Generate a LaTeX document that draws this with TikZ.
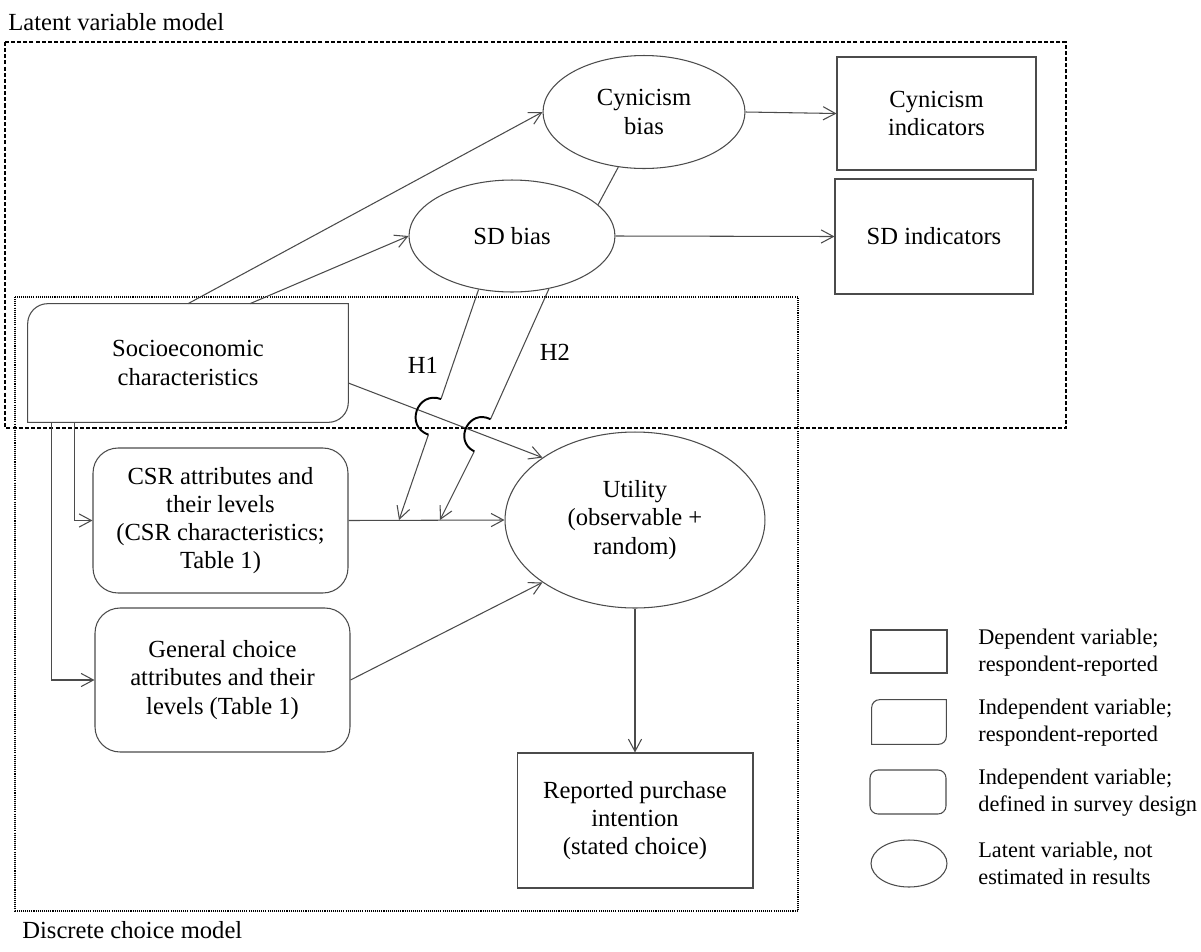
\documentclass[tikz,border=0pt]{standalone}
\usepackage{fontspec}
\setmainfont{Liberation Serif}
\usepackage{tikz}
\usetikzlibrary{arrows.meta,shapes.geometric,calc}
\definecolor{edgegray}{RGB}{75,75,75}

\begin{document}
\begin{tikzpicture}[x=0.02cm, y=-0.02cm,
    font=\fontsize{14}{16}\selectfont,
    >={Straight Barb[length=7pt,width=7.5pt]},
    varbox/.style={draw=edgegray, line width=0.6pt, align=center, inner sep=2pt},
    roundbox/.style={varbox, rounded corners=0.5cm},
    latentvar/.style={varbox, ellipse},
    conn/.style={->, draw=edgegray, line width=0.6pt},
    jump/.style={black, line width=1.1pt},
    keytext/.style={anchor=west, align=left, inner sep=0pt, font=\fontsize{12.7}{15.3}\selectfont}]
    \useasboundingbox (0,0) rectangle (1201,951);

    % Model frames
    \draw[line width=1.1pt, dash pattern=on 2.3pt off 1.2pt] (5,42) rectangle (1066,428);
    \draw[line width=1pt, dash pattern=on 0.6pt off 0.6pt] (15,297) rectangle (798,911);
    \node[anchor=west, inner sep=0pt] (lvm) at (8,22) {Latent variable model};
    \node[anchor=west, inner sep=0pt] (dcm) at (22,930) {Discrete choice model};

    % Variables
    \node[varbox, minimum width=3.98cm, minimum height=2.26cm] (cynind) at (936.5,113.5) {Cynicism\\indicators};
    \node[varbox, minimum width=3.96cm, minimum height=2.3cm] (sdind) at (934,236.5) {SD indicators};
    \node[latentvar, minimum width=4.04cm, minimum height=2.26cm] (cynbias) at (644,112) {Cynicism\\bias};
    \node[latentvar, minimum width=4.12cm, minimum height=2.24cm] (sdbias) at (512,236) {SD bias};
    \node[align=center, inner sep=2pt, minimum width=6.4cm, minimum height=2.36cm] (socio) at (188,363) {Socioeconomic\\characteristics};
    \node[roundbox, minimum width=5.1cm, minimum height=2.9cm] (csr) at (220.5,520.5) {CSR attributes and\\their levels\\(CSR characteristics;\\Table 1)};
    \node[roundbox, minimum width=5.1cm, minimum height=2.88cm] (general) at (222.5,680) {General choice\\attributes and their\\levels (Table 1)};
    \node[latentvar, minimum width=5.2cm, minimum height=3.52cm] (utility) at (635,520) {Utility\\(observable +\\random)};
    \node[varbox, minimum width=4.72cm, minimum height=2.7cm] (report) at (635,820.5) {Reported purchase\\intention\\(stated choice)};

    % Socioeconomic box, two corners rounded
    \draw[edgegray, line width=0.6pt] ([xshift=0.4cm]socio.north west) -- (socio.north east)
        -- ([yshift=0.4cm]socio.south east) .. controls ([yshift=0.18cm]socio.south east) and ([xshift=-0.18cm]socio.south east) .. ([xshift=-0.4cm]socio.south east)
        -- (socio.south west) -- ([yshift=-0.4cm]socio.north west)
        .. controls ([yshift=-0.18cm]socio.north west) and ([xshift=0.18cm]socio.north west) .. ([xshift=0.4cm]socio.north west);

    % Links
    \draw[conn] (socio.north) -- (cynbias.west);
    \draw[conn] ([xshift=1.24cm]socio.north) -- (sdbias.west);
    \draw[conn] (cynbias.east) -- (cynind.west);
    \draw[conn] (sdbias.east) -- (sdind.west);
    \draw[edgegray, line width=0.6pt] (sdbias.20) -- (cynbias.245);
    \draw[conn] ([xshift=0.48cm]socio.south west) |- (general.west);
    \draw[conn] ([xshift=0.94cm]socio.south west) |- (csr.west);
    \draw[conn] ([yshift=-0.4cm]socio.east) -- (utility.146);
    \draw[conn] (csr.east) -- (utility.west);
    \draw[conn] (general.east) -- (utility.214);
    \draw[conn] (utility.south) -- (report.north);

    % Moderation paths with line jumps
    \coordinate (h1a) at (441,399);
    \coordinate (h1c) at (417.1,390.5);
    \coordinate (h1d) at (404.5,426.3);
    \coordinate (h1b) at (428.4,434.7);
    \coordinate (h1e) at (399,520);
    \coordinate (h2a) at (490.5,419.2);
    \coordinate (h2c) at (469.1,408.4);
    \coordinate (h2d) at (452.9,440.6);
    \coordinate (h2b) at (474.3,451.4);
    \coordinate (h2e) at (440,520);
    \draw[conn] (sdbias.238) -- (h1a) (h1b) -- (h1e);
    \draw[jump] (h1a) .. controls (h1c) and (h1d) .. (h1b);
    \draw[conn] (sdbias.305) -- (h2a) (h2b) -- (h2e);
    \draw[jump] (h2a) .. controls (h2c) and (h2d) .. (h2b);
    \node (h1) at (423,365) {H1};
    \node (h2) at (555,352) {H2};

    % Legend
    \node[varbox, minimum width=1.52cm, minimum height=0.86cm] (keydep) at (909,651.5) {};
    \node[inner sep=0pt, minimum width=1.48cm, minimum height=0.88cm] (keyresp) at (909,722) {};
    \draw[edgegray, line width=0.6pt] ([xshift=0.16cm]keyresp.north west) -- (keyresp.north east)
        -- ([yshift=0.16cm]keyresp.south east) .. controls ([yshift=0.07cm]keyresp.south east) and ([xshift=-0.07cm]keyresp.south east) .. ([xshift=-0.16cm]keyresp.south east)
        -- (keyresp.south west) -- ([yshift=-0.16cm]keyresp.north west)
        .. controls ([yshift=-0.07cm]keyresp.north west) and ([xshift=0.07cm]keyresp.north west) .. ([xshift=0.16cm]keyresp.north west);
    \node[roundbox, rounded corners=0.16cm, minimum width=1.52cm, minimum height=0.88cm] (keydesign) at (908,792) {};
    \node[latentvar, minimum width=1.52cm, minimum height=0.94cm] (keylatent) at (909,863.5) {};
    \node[keytext] (keydeptxt) at (978,653) {Dependent variable;\\respondent-reported};
    \node[keytext] (keyresptxt) at (978,723) {Independent variable;\\respondent-reported};
    \node[keytext] (keydesigntxt) at (978,793) {Independent variable;\\defined in survey design};
    \node[keytext] (keylatenttxt) at (978,863) {Latent variable, not\\estimated in results};
\end{tikzpicture}
\end{document}
